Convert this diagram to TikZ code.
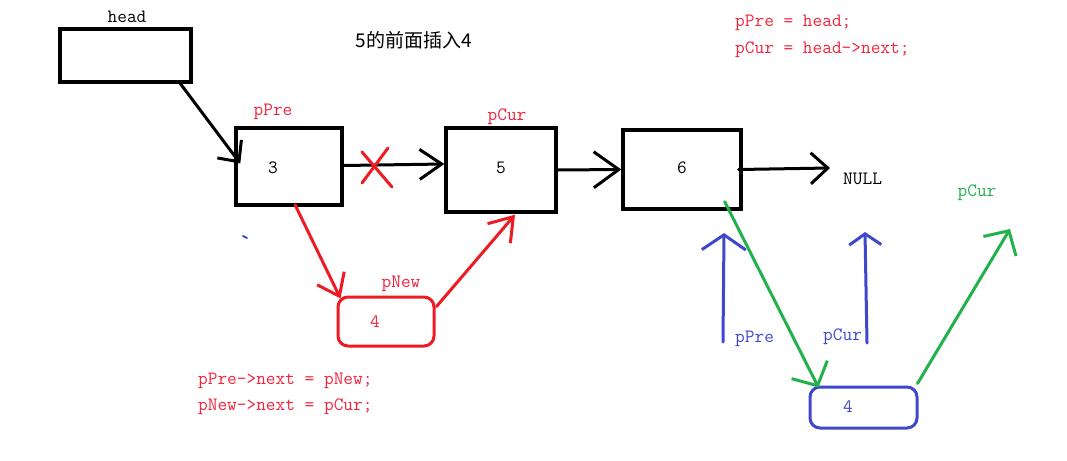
\documentclass[tikz,border=0pt]{standalone}
\usepackage{fontspec}
\usetikzlibrary{arrows.meta,calc}
\newfontfamily\monof{Latin Modern Mono}
\newfontfamily\cjk{Noto Sans CJK SC}
\definecolor{pred}{HTML}{ED1C24}
\definecolor{tred}{HTML}{F2243C}
\definecolor{pblue}{HTML}{3F48CC}
\definecolor{pgreen}{HTML}{22B14C}
\tikzset{
  ln/.style={line width=3pt, line cap=round, line join=round},
  boxn/.style={draw, ln, line width=3.4pt, line cap=rect, line join=miter, inner sep=0pt, rectangle},
  rbox/.style={draw, ln, inner sep=0pt, rounded corners=10pt},
  txt/.style={inner sep=0pt, font=\monof\fontsize{18.8}{20}\selectfont},
  barb/.style 2 args={ln, -{Straight Barb[length=#1, width=#2, line width=3pt]}},
}
\begin{document}
\begin{tikzpicture}[x=1pt, y=-1pt]
\useasboundingbox[fill=white] (0,0) rectangle (1067,460);

% boxes
\node[boxn, minimum width=131pt, minimum height=53pt] (head) at (125.5,55.5) {};
\node[boxn, minimum width=106pt, minimum height=77pt] (b3) at (289,166.5) {};
\node[boxn, minimum width=110pt, minimum height=84pt] (b5) at (501,170) {};
\node[boxn, minimum width=118pt, minimum height=79pt] (b6) at (682,169.5) {};
\node[rbox, pred, minimum width=96pt, minimum height=49pt] (pnew) at (386,321.5) {};
\node[rbox, pblue, minimum width=107pt, minimum height=41pt] (bnew) at (863.5,407.5) {};

% texts
\node[txt] (thead) at (127,17) {head};
\node[txt, tred] (tppre) at (273,112) {pPre};
\node[txt, tred] (tpcur) at (507,117) {pCur};
\node[txt] (t3) at (273,168) {3};
\node[txt] (t5) at (501,168) {5};
\node[txt] (t6) at (682,168) {6};
\node[txt, anchor=west] (null) at (843,179) {NULL};
\node[txt, tred] (tpnew) at (401,284) {pNew};
\node[txt, tred] (t4r) at (375,322) {4};
\node[txt, pblue] (t4b) at (848,407) {4};
\node[txt, pblue, anchor=west] (bppre) at (735,339) {pPre};
\node[txt, pblue, anchor=west] (bpcur) at (823,337) {pCur};
\node[txt, pgreen] (gpcur) at (977,193) {pCur};
\node[inner sep=0pt, font=\cjk\fontsize{19}{22}\selectfont] (title) at (414,40) {5的前面插入4};
\node[txt, tred, anchor=west] (c1) at (735,23) {pPre = head;};
\node[txt, tred, anchor=west] (c2) at (735,50) {pCur = head->next;};
\node[txt, tred, anchor=west] (c3) at (198,381) {pPre->next = pNew;};
\node[txt, tred, anchor=west] (c4) at (198,407) {pNew->next = pCur;};

% free ends
\coordinate (nullIn) at (830,168);
\coordinate (xc) at (376,168);
\coordinate (pb1s) at (723,342);
\coordinate (pb1e) at (724,233);
\coordinate (pb2s) at (867,343);
\coordinate (pb2e) at (865,232);
\coordinate (gend) at (1010,229);

% black connectors
\draw[barb={16pt}{30pt}] ($(head.south east)+(-13,-1)$) -- ($(b3.west)+(6,-3)$);
\draw[barb={22pt}{30pt}] ($(b3.east)+(0,-1)$) -- ($(b5.west)+(0,-6)$);
\draw[barb={25pt}{36pt}] (b5.east) -- (b6.west);
\draw[barb={17pt}{31pt}] ($(b6.east)+(-4,0)$) -- (nullIn);

% red cross
\draw[ln, pred] ($(xc)+(-14,-16)$) -- ($(xc)+(16,19)$);
\draw[ln, pred] ($(xc)+(12,-20)$) -- ($(xc)+(-14,15)$);

% red connectors
\draw[barb={20pt}{30pt}, pred] ($(b3.south)+(6,-2)$) -- ($(pnew.north west)+(4,3)$);
\draw[barb={22pt}{30pt}, pred] ($(pnew.east)+(1,-15)$) -- ($(b5.south)+(14,1)$);

% blue stroke
\draw[ln, pblue, line width=2pt] (243,236) -- (247,238);

% blue arrows
\draw[barb={15pt}{44pt}, pblue] (pb1s) -- (pb1e);
\draw[barb={11pt}{32pt}, pblue] (pb2s) -- (pb2e);

% green arrows
\draw[barb={18pt}{40pt}, pgreen] ($(b6.south east)+(-18,-9)$) -- ($(bnew.north west)+(10,2)$);
\draw[barb={18pt}{38pt}, pgreen] ($(bnew.north east)+(-1,-2)$) -- (gend);
\end{tikzpicture}
\end{document}
